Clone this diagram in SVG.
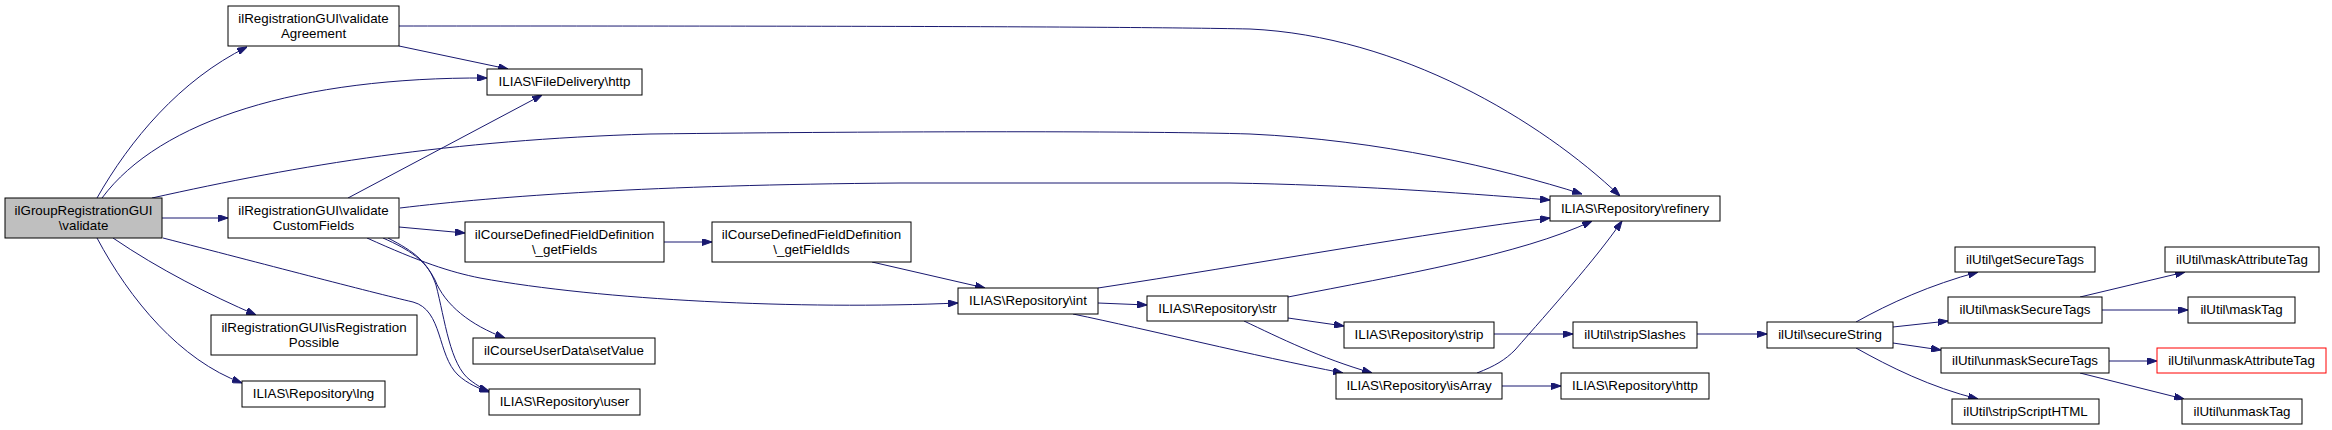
<svg xmlns="http://www.w3.org/2000/svg" width="2332" height="430" viewBox="0 0 2332 430">
<style>
.n rect{fill:#fff;stroke:#000;stroke-width:1}
.n text{font-family:"Liberation Sans",Arial,Helvetica,sans-serif;font-size:13.33px;fill:#000;text-anchor:middle}
#edges path{fill:none;stroke:#191970;stroke-width:1;marker-end:url(#a)}
</style>
<defs>
<marker id="a" viewBox="0 0 10 7" refX="10" refY="3.5" markerWidth="10" markerHeight="7" markerUnits="userSpaceOnUse" orient="auto">
<path d="M0,0 L10,3.5 L0,7 z" fill="#191970" stroke="#191970" stroke-width="1"/>
</marker>
</defs>
<rect width="2332" height="430" fill="#fff"/>
<g id="edges">
<path d="M97,198 C130,140 180,80 247,47"/>
<path d="M102,198 C160,120 300,77 487,78"/>
<path d="M152,198 C300,165 450,140 650,134 C900,131 1150,131 1250,134 C1380,140 1500,168 1582,194"/>
<path d="M162,218 L228,218"/>
<path d="M113,238 C160,270 210,295 256,315"/>
<path d="M97,238 C130,300 180,360 242,383"/>
<path d="M163,238 C260,263 370,292 413,302 C443,310 437,355 458,375 C468,384 478,388 489,392"/>
<path d="M348,198 L542,95"/>
<path d="M400,208 C500,196 650,185 900,183 L1230,183 C1350,185 1450,192 1550,200"/>
<path d="M399,227 L465,233"/>
<path d="M367,238 C420,262 450,272 480,278 C600,300 800,310 958,303"/>
<path d="M383,238 C410,250 425,260 435,280 C445,305 470,325 505,338"/>
<path d="M388,238 C415,252 428,262 436,285 C445,320 450,365 470,380 C478,386 483,389 489,391"/>
<path d="M664,242 L712,242"/>
<path d="M872,262 L985,288"/>
<path d="M1098,303 L1147,305"/>
<path d="M1098,288 C1250,265 1430,232 1550,218"/>
<path d="M1073,314 C1150,330 1250,355 1343,373"/>
<path d="M1288,297 C1400,275 1520,255 1592,221"/>
<path d="M1288,318 L1344,326"/>
<path d="M1244,321 C1280,338 1320,358 1372,373"/>
<path d="M1494,334 L1573,334"/>
<path d="M1477,373 C1495,366 1505,360 1515,350 C1550,310 1595,260 1622,221"/>
<path d="M1502,386 L1561,386"/>
<path d="M1697,334 L1767,334"/>
<path d="M1856,322 C1890,303 1930,285 1978,272"/>
<path d="M1893,327 L1948,321"/>
<path d="M1893,343 L1941,350"/>
<path d="M1856,348 C1890,367 1930,387 1978,399"/>
<path d="M2080,297 L2185,272"/>
<path d="M2102,310 L2188,310"/>
<path d="M2109,361 L2157,361"/>
<path d="M2080,373 L2184,399"/>
<path d="M399,46 L508,69"/>
<path d="M399,26 C700,26 1100,26 1250,29 C1400,36 1540,120 1620,196"/>
</g>
<g id="n1" class="n"><rect x="5" y="198" width="157" height="40" style="fill:#bfbfbf"/><text x="83.5" y="215">ilGroupRegistrationGUI</text><text x="83.5" y="230">\validate</text></g>
<g id="n2" class="n"><rect x="228" y="6" width="171" height="40"/><text x="313.5" y="23">ilRegistrationGUI\validate</text><text x="313.5" y="38">Agreement</text></g>
<g id="n3" class="n"><rect x="228" y="198" width="171" height="40"/><text x="313.5" y="215">ilRegistrationGUI\validate</text><text x="313.5" y="230">CustomFields</text></g>
<g id="n4" class="n"><rect x="211" y="315" width="206" height="40"/><text x="314" y="332">ilRegistrationGUI\isRegistration</text><text x="314" y="347">Possible</text></g>
<g id="n5" class="n"><rect x="242" y="381" width="143" height="26"/><text x="313.5" y="398">ILIAS\Repository\lng</text></g>
<g id="n6" class="n"><rect x="487" y="69" width="155" height="26"/><text x="564.5" y="86">ILIAS\FileDelivery\http</text></g>
<g id="n7" class="n"><rect x="465" y="222" width="199" height="40"/><text x="564.5" y="239">ilCourseDefinedFieldDefinition</text><text x="564.5" y="254">\_getFields</text></g>
<g id="n8" class="n"><rect x="473" y="338" width="182" height="26"/><text x="564" y="355">ilCourseUserData\setValue</text></g>
<g id="n9" class="n"><rect x="489" y="389" width="151" height="26"/><text x="564.5" y="406">ILIAS\Repository\user</text></g>
<g id="n10" class="n"><rect x="712" y="222" width="199" height="40"/><text x="811.5" y="239">ilCourseDefinedFieldDefinition</text><text x="811.5" y="254">\_getFieldIds</text></g>
<g id="n11" class="n"><rect x="958" y="288" width="140" height="26"/><text x="1028" y="305">ILIAS\Repository\int</text></g>
<g id="n12" class="n"><rect x="1147" y="296" width="141" height="25"/><text x="1217.5" y="313">ILIAS\Repository\str</text></g>
<g id="n13" class="n"><rect x="1550" y="196" width="170" height="25"/><text x="1635" y="213">ILIAS\Repository\refinery</text></g>
<g id="n14" class="n"><rect x="1344" y="322" width="150" height="26"/><text x="1419" y="339">ILIAS\Repository\strip</text></g>
<g id="n15" class="n"><rect x="1336" y="373" width="166" height="26"/><text x="1419" y="390">ILIAS\Repository\isArray</text></g>
<g id="n16" class="n"><rect x="1573" y="322" width="124" height="26"/><text x="1635" y="339">ilUtil\stripSlashes</text></g>
<g id="n17" class="n"><rect x="1561" y="373" width="148" height="26"/><text x="1635" y="390">ILIAS\Repository\http</text></g>
<g id="n18" class="n"><rect x="1767" y="322" width="126" height="26"/><text x="1830" y="339">ilUtil\secureString</text></g>
<g id="n19" class="n"><rect x="1955" y="247" width="140" height="25"/><text x="2025" y="264">ilUtil\getSecureTags</text></g>
<g id="n20" class="n"><rect x="1948" y="297" width="154" height="26"/><text x="2025" y="314">ilUtil\maskSecureTags</text></g>
<g id="n21" class="n"><rect x="1941" y="348" width="168" height="25"/><text x="2025" y="365">ilUtil\unmaskSecureTags</text></g>
<g id="n22" class="n"><rect x="1952" y="399" width="147" height="25"/><text x="2025.5" y="416">ilUtil\stripScriptHTML</text></g>
<g id="n23" class="n"><rect x="2165" y="247" width="154" height="25"/><text x="2242" y="264">ilUtil\maskAttributeTag</text></g>
<g id="n24" class="n"><rect x="2188" y="297" width="107" height="26"/><text x="2241.5" y="314">ilUtil\maskTag</text></g>
<g id="n25" class="n"><rect x="2157" y="348" width="169" height="25" style="stroke:#ff0000"/><text x="2241.5" y="365">ilUtil\unmaskAttributeTag</text></g>
<g id="n26" class="n"><rect x="2182" y="399" width="120" height="25"/><text x="2242" y="416">ilUtil\unmaskTag</text></g>
</svg>
